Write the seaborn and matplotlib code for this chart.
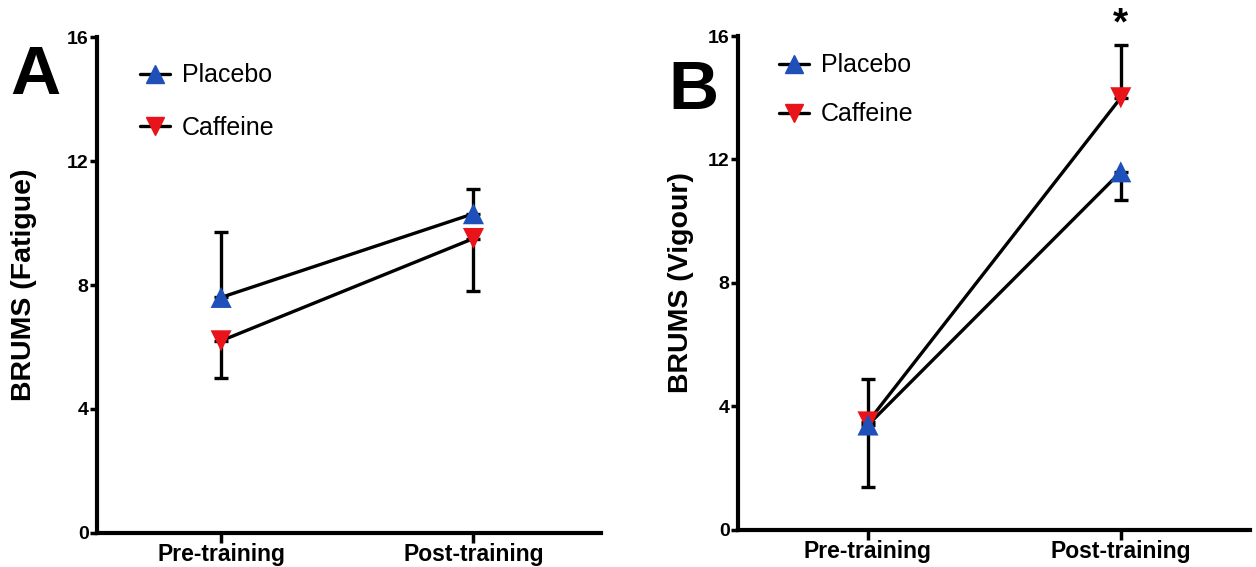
import numpy as np
import pandas as pd
import matplotlib
matplotlib.use("Agg")
import matplotlib.pyplot as plt
from matplotlib.lines import Line2D
import seaborn as sns

# Time points
phases = ["Pre-training", "Post-training"]

# Panel A: BRUMS fatigue (mean and one-sided SD)
fatigue_placebo = [7.6, 10.3]
fatigue_placebo_err = [2.1, 0.8]      # drawn upward
fatigue_caffeine = [6.2, 9.5]
fatigue_caffeine_err = [1.2, 1.7]     # drawn downward

# Panel B: BRUMS vigour (mean and one-sided SD)
vigour_placebo = [3.4, 11.6]
vigour_placebo_err = [1.5, 0.9]       # pre upward, post downward
vigour_caffeine = [3.5, 14.0]
vigour_caffeine_err = [2.1, 1.7]      # pre downward, post upward

y_ticks = [0, 4, 8, 12, 16]

sns.set_theme(style="ticks")
plt.rcParams["font.family"] = ["Liberation Sans", "DejaVu Sans"]
plt.rcParams.update({
    "text.color": "black",
    "axes.labelcolor": "black",
    "xtick.color": "black",
    "ytick.color": "black",
})

BLUE = "#1f4fb8"
RED = "#e8141a"

fig = plt.figure(figsize=(12.56, 5.67), dpi=100)
axA = fig.add_axes([0.0772, 0.060, 0.401, 0.8747])
axB = fig.add_axes([0.5876, 0.0653, 0.4074, 0.8712])

x = np.arange(len(phases))


def draw_series(ax, values, color, marker, err, err_dirs, z):
    df = pd.DataFrame({"x": x, "y": values})
    lower = [e if d < 0 else 0 for e, d in zip(err, err_dirs)]
    upper = [e if d > 0 else 0 for e, d in zip(err, err_dirs)]
    ax.errorbar(x, values, yerr=[lower, upper], fmt="none", ecolor="black",
                elinewidth=2.4, capsize=5, capthick=2.4, zorder=2)
    sns.lineplot(data=df, x="x", y="y", color="black", linewidth=2.4,
                 ax=ax, zorder=3, legend=False)
    sns.scatterplot(data=df, x="x", y="y", color=color, marker=marker, s=230,
                    edgecolor="none", ax=ax, zorder=z, legend=False)


def style_axes(ax, ylabel, xlim, label_x):
    ax.set_xlim(*xlim)
    ax.set_ylim(0, 16)
    ax.set_yticks(y_ticks)
    ax.set_yticklabels([str(t) for t in y_ticks], fontsize=14, fontweight="bold")
    ax.set_xticks(x)
    ax.set_xticklabels(phases, fontsize=16.5, fontweight="bold")
    ax.set_xlabel("")
    ax.set_ylabel(ylabel, fontsize=20.5, fontweight="bold")
    ax.yaxis.set_label_coords(label_x, 0.5)
    ax.yaxis.label.set_va("center")
    sns.despine(ax=ax)
    for s in ("left", "bottom"):
        ax.spines[s].set_linewidth(3)
        ax.spines[s].set_color("black")
    ax.tick_params(axis="y", length=5, width=2.5, pad=1)
    ax.tick_params(axis="x", length=7, width=2.5, pad=0)


def add_legend(ax, loc_xy, spacing):
    handles = [
        Line2D([], [], color="black", lw=2.4, marker="^", markersize=13,
               markerfacecolor=BLUE, markeredgecolor=BLUE),
        Line2D([], [], color="black", lw=2.4, marker="v", markersize=13,
               markerfacecolor=RED, markeredgecolor=RED),
    ]
    ax.legend(handles, ["Placebo", "Caffeine"], loc="upper left",
              bbox_to_anchor=loc_xy, frameon=False, fontsize=18,
              handlelength=1.2, handletextpad=0.5, labelspacing=spacing,
              borderaxespad=0)


# Panel A
draw_series(axA, fatigue_caffeine, RED, "v", fatigue_caffeine_err, [-1, -1], 4)
draw_series(axA, fatigue_placebo, BLUE, "^", fatigue_placebo_err, [1, 1], 5)
style_axes(axA, "BRUMS (Fatigue)", (-0.492, 1.504), -0.145)
add_legend(axA, (0.065, 0.967), 1.15)
fig.text(0.008, 0.835, "A", fontsize=50, fontweight="bold", ha="left", va="baseline")

# Panel B
draw_series(axB, vigour_caffeine, RED, "v", vigour_caffeine_err, [-1, 1], 4)
draw_series(axB, vigour_placebo, BLUE, "^", vigour_placebo_err, [1, -1], 5)
style_axes(axB, "BRUMS (Vigour)", (-0.514, 1.51), -0.111)
add_legend(axB, (0.06, 0.985), 1.0)
fig.text(0.532, 0.808, "B", fontsize=50, fontweight="bold", ha="left", va="baseline")

# Significance marker above the post-training caffeine value
axB.annotate("*", xy=(1, vigour_caffeine[1] + vigour_caffeine_err[1]),
             xytext=(0, 2), textcoords="offset points", ha="center", va="bottom",
             fontsize=28, fontweight="bold", annotation_clip=False)

fig.savefig("out.png", dpi=100)
